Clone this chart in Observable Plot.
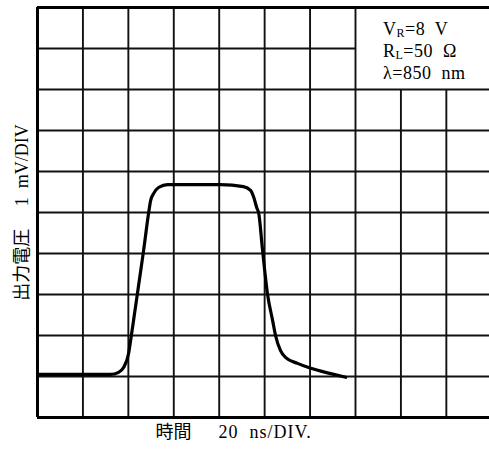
<!DOCTYPE html>
<html><head><meta charset="utf-8">
<script src="https://cdn.jsdelivr.net/npm/d3@7"></script>
<script src="https://cdn.jsdelivr.net/npm/@observablehq/plot@0.6"></script>
<style>
body{margin:0;background:#fff;}
#wrap{position:relative;width:489px;height:450px;overflow:hidden;}
#legend{position:absolute;left:383px;top:18px;font-family:"Liberation Serif","Noto Sans CJK JP",serif;font-size:18px;line-height:22px;letter-spacing:0.5px;color:#000;white-space:pre;}
#legend sub{font-size:12px;vertical-align:-2px;line-height:0;}
</style></head><body>
<div id="wrap"><div id="chart"></div><div id="legend"></div></div>
<script>
// Waveform: time (ns, 20 ns/DIV) and output voltage (mV, 1 mV/DIV)
const timeNs = [0, 32.2, 35.7, 37.9, 40.1, 41.0, 42.3, 44.5, 46.7, 48.9, 49.8, 51.1, 53.3, 57.3, 62.1, 80.6, 90.7, 93.8, 95.2, 96.5, 97.4, 99.1, 101.3, 103.5, 104.8, 107.0, 109.3, 114.5, 120.3, 129.1, 135.7];
const voltMv = [1.05, 1.05, 1.10, 1.22, 1.56, 1.88, 2.37, 3.22, 4.07, 4.98, 5.29, 5.46, 5.61, 5.68, 5.68, 5.68, 5.63, 5.54, 5.37, 5.12, 4.98, 4.07, 3.0, 2.37, 2.0, 1.63, 1.46, 1.32, 1.20, 1.07, 0.98];
// Grid divisions
const xGridNs = [20, 40, 60, 80, 100, 120, 140, 160, 180];
const yGridMv = [1, 2, 3, 4, 5, 6, 7, 8, 9];
// Labels
const xLabelName = "時間";
const xLabelUnit = "20  ns/DIV.";
const yLabel = "出力電圧\u3000 1  mV/DIV";
const legendSymbols = ["V", "R", "λ"];
const legendSubs = ["R", "L", ""];
const legendValues = ["=8  V", "=50  Ω", "=850  nm"];

const font = '"Liberation Serif","Noto Sans CJK JP",serif';
const boxX = 140, boxY = 8; // legend box corner (data units)
const data = timeNs.map((t, i) => ({t, v: voltMv[i]}));
const vGrid = xGridNs.map(x => ({x, y1: 0, y2: x > boxX ? boxY : 10}));
const hGrid = yGridMv.map(y => ({y, x1: 0, x2: y > boxY ? boxX : 199}));

const chart = Plot.plot({
  width: 489, height: 450,
  marginLeft: 37, marginRight: 0, marginTop: 7, marginBottom: 33,
  x: {domain: [0, 199], axis: null},
  y: {domain: [0, 10], axis: null},
  style: {background: "white", fontFamily: font},
  marks: [
    Plot.ruleX(vGrid, {x: "x", y1: "y1", y2: "y2", stroke: "#111", strokeWidth: 1.9}),
    Plot.ruleY(hGrid, {y: "y", x1: "x1", x2: "x2", stroke: "#111", strokeWidth: 1.9}),
    Plot.ruleX([0], {stroke: "#000", strokeWidth: 3}),
    Plot.ruleY([0, 10], {stroke: "#000", strokeWidth: 3}),
    Plot.line(data, {x: "t", y: "v", curve: "monotone-x", stroke: "#000", strokeWidth: 3.2, strokeLinecap: "round", strokeLinejoin: "round"}),
    Plot.text([xLabelName], {text: d => d, frameAnchor: "bottom-left", dx: 118, dy: 20, textAnchor: "start", fontSize: 18, fill: "#000", fontFamily: font}),
    Plot.text([xLabelUnit], {text: d => d, frameAnchor: "bottom-left", dx: 181, dy: 20, textAnchor: "start", fontSize: 18, fill: "#000", fontFamily: font, style: "letter-spacing:1px"}),
    Plot.text([yLabel], {text: d => d, frameAnchor: "left", dx: -15, rotate: -90, textAnchor: "middle", fontSize: 18, fill: "#000", fontFamily: font})
  ]
});
chart.querySelectorAll("text").forEach(t => { if (t.textContent.includes("ns/DIV")) t.setAttribute("letter-spacing", "1"); });
document.getElementById("chart").appendChild(chart);

const legend = document.getElementById("legend");
legend.innerHTML = legendSymbols.map((s, i) =>
  `<div>${s}${legendSubs[i] ? `<sub>${legendSubs[i]}</sub>` : ""}${legendValues[i]}</div>`
).join("");
</script>
</body></html>
